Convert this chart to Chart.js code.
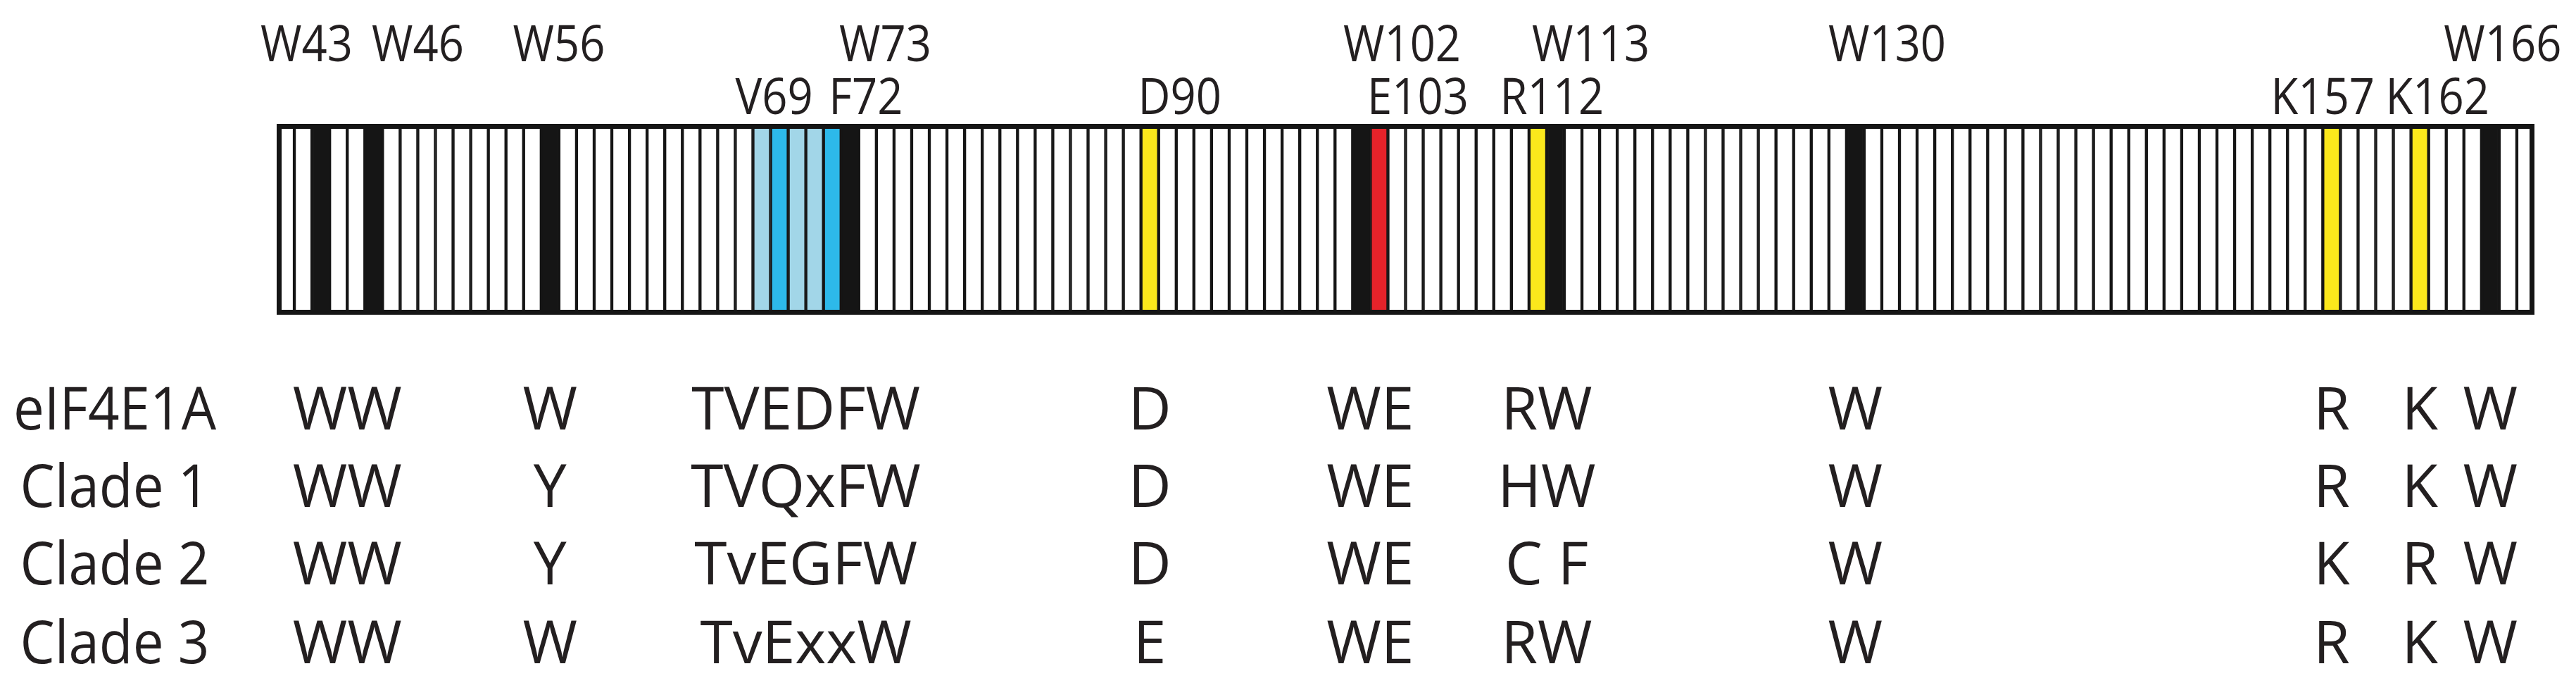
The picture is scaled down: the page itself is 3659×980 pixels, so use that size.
<!DOCTYPE html>
<html>
<head>
<meta charset="utf-8">
<script src="https://cdn.jsdelivr.net/npm/chart.js@4.4.1/dist/chart.umd.min.js"></script>
<style>
html, body { margin: 0; padding: 0; background: #ffffff; overflow: hidden; }
#wrap { position: relative; width: 3659px; height: 980px; }
canvas { display: block; }
</style>
</head>
<body>
<div id="wrap"><canvas id="c" width="3659" height="980"></canvas></div>
<script>
// ---------------- DATA ----------------
// residues drawn as cells in the schematic
const residues = [41,42,43,44,45,46,47,48,49,50,51,52,53,54,55,56,57,58,59,60,
  61,62,63,64,65,66,67,68,69,70,71,72,73,74,75,76,77,78,79,80,
  81,82,83,84,85,86,87,88,89,90,91,92,93,94,95,96,97,98,99,100,
  101,102,103,104,105,106,107,108,109,110,111,112,113,114,115,116,117,118,119,120,
  121,122,123,124,125,126,127,128,129,130,131,132,133,134,135,136,137,138,139,140,
  141,142,143,144,145,146,147,148,149,150,151,152,153,154,155,156,157,158,159,160,
  161,162,163,164,165,166,167,168];
// highlighted residue classes
const tryptophanSites = [43, 46, 56, 73, 102, 113, 130, 166];   // black
const yellowSites = [90, 112, 157, 162];                        // yellow
const redSites = [103];                                         // red
const strongBlueSites = [69, 72];                               // bright blue
const lightBlueSites = [68, 70, 71];                            // light blue

// labels above the bar
const topRow1Labels = ['W43', 'W46', 'W56', 'W73', 'W102', 'W113', 'W130', 'W166'];
const topRow2Labels = ['V69', 'F72', 'D90', 'E103', 'R112', 'K157', 'K162'];

// aligned sequence table below the bar
const sequenceNames = ['eIF4E1A', 'Clade 1', 'Clade 2', 'Clade 3'];
const motifSites = [[43, 46], [56], [68, 73], [90], [102, 103], [112, 113], [130], [157], [162], [166]];
const eIF4E1AMotifs = ['WW', 'W', 'TVEDFW', 'D', 'WE', 'RW', 'W', 'R', 'K', 'W'];
const clade1Motifs  = ['WW', 'Y', 'TVQxFW', 'D', 'WE', 'HW', 'W', 'R', 'K', 'W'];
const clade2Motifs  = ['WW', 'Y', 'TvEGFW', 'D', 'WE', 'C F', 'W', 'K', 'R', 'W'];
const clade3Motifs  = ['WW', 'W', 'TvExxW', 'E', 'WE', 'RW', 'W', 'R', 'K', 'W'];

// ---------------- LAYOUT / STYLE ----------------
const layout = {
  // label anchors in residue units (labels are nudged so they do not collide)
  topRow1At: [42.2, 48.5, 56.5, 75.0, 104.3, 115.0, 131.8, 166.7],
  topRow2At: [68.7, 73.9, 91.7, 105.2, 112.8, 156.5, 163.0],
  row1Baseline: -89, row2Baseline: -14,           // relative to chart top
  seqBaselines: [163, 273, 383, 495],             // relative to chart bottom
  nameCenter: -230                                // relative to chart left
};
const colors = {
  white: '#ffffff', black: '#151515', yellow: '#fbe81c', red: '#e6232a',
  strongBlue: '#2db9ea', lightBlue: '#a2d6e8', text: '#231f20'
};

function cellColor(r) {
  if (tryptophanSites.includes(r)) return colors.black;
  if (yellowSites.includes(r)) return colors.yellow;
  if (redSites.includes(r)) return colors.red;
  if (strongBlueSites.includes(r)) return colors.strongBlue;
  if (lightBlueSites.includes(r)) return colors.lightBlue;
  return colors.white;
}

const framePlugin = {
  id: 'frame',
  afterDatasetsDraw(chart) {
    const { ctx, chartArea: a } = chart;
    ctx.save();
    ctx.strokeStyle = colors.black;
    ctx.lineWidth = 7;
    ctx.strokeRect(a.left + 3.5, a.top + 3.5, a.right - a.left - 7, a.bottom - a.top - 7);
    ctx.restore();
  }
};

const textPlugin = {
  id: 'texts',
  afterDraw(chart) {
    const { ctx, chartArea: a } = chart;
    const xs = chart.scales.x;
    const px = r => xs.getPixelForValue(r - residues[0]);
    ctx.save();
    ctx.fillStyle = colors.text;
    ctx.textBaseline = 'alphabetic';
    ctx.textAlign = 'center';
    const drawCondensed = (t, x, y, sx) => {
      ctx.save(); ctx.translate(x, y); ctx.scale(sx, 1); ctx.fillText(t, 0, 0); ctx.restore();
    };
    ctx.font = '72px "Open Sans"';
    topRow1Labels.forEach((t, i) => drawCondensed(t, px(layout.topRow1At[i]), a.top + layout.row1Baseline, 0.88));
    topRow2Labels.forEach((t, i) => drawCondensed(t, px(layout.topRow2At[i]), a.top + layout.row2Baseline, 0.88));

    ctx.font = '84px "Open Sans"';
    const rows = [eIF4E1AMotifs, clade1Motifs, clade2Motifs, clade3Motifs];
    rows.forEach((motifs, ri) => {
      const y = a.bottom + layout.seqBaselines[ri];
      drawCondensed(sequenceNames[ri], a.left + layout.nameCenter, y, 0.93);
      motifs.forEach((m, mi) => {
        const s = motifSites[mi];
        const cx = (px(s[0]) + px(s[s.length - 1])) / 2;
        ctx.fillText(m, cx, y);
      });
    });
    ctx.restore();
  }
};

function build() {
  new Chart(document.getElementById('c'), {
    type: 'bar',
    data: {
      labels: residues.map(String),
      datasets: [{
        data: residues.map(() => 1),
        backgroundColor: residues.map(cellColor),
        borderColor: colors.black,
        borderWidth: 2.5,
        borderSkipped: false,
        barPercentage: 1,
        categoryPercentage: 1
      }]
    },
    options: {
      responsive: false,
      animation: false,
      devicePixelRatio: 1,
      layout: { padding: { left: 393, right: 59, top: 176, bottom: 533 } },
      plugins: { legend: { display: false }, tooltip: { enabled: false }, title: { display: false } },
      scales: {
        x: { display: false },
        y: { display: false, min: 0, max: 1 }
      }
    },
    plugins: [framePlugin, textPlugin]
  });
}
if (document.fonts && document.fonts.load) {
  Promise.all([document.fonts.load('72px "Open Sans"'), document.fonts.load('84px "Open Sans"')])
    .then(build, build);
} else { build(); }
</script>
</body>
</html>
